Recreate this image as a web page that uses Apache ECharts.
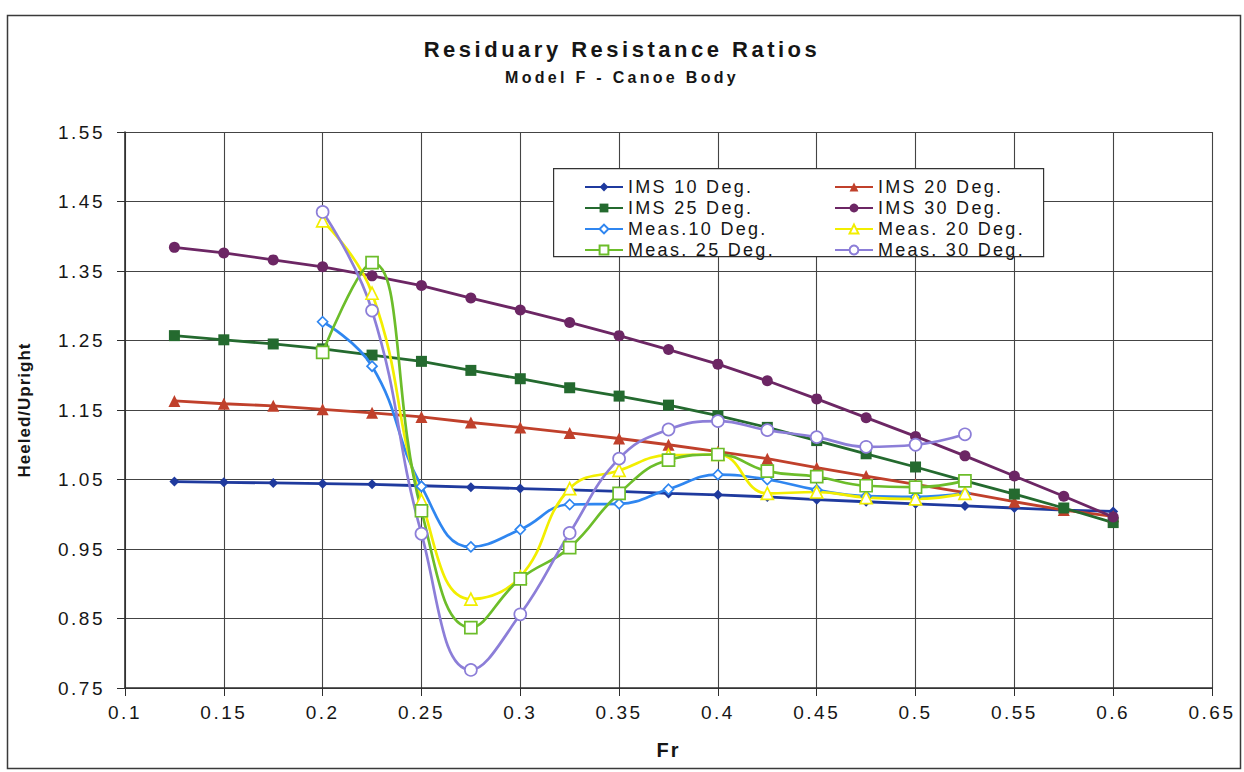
<!DOCTYPE html>
<html>
<head>
<meta charset="utf-8">
<title>Residuary Resistance Ratios</title>
<script src="https://cdn.jsdelivr.net/npm/echarts@6/dist/echarts.min.js"></script>
<style>
  html, body { margin: 0; padding: 0; background: #fff; }
  #chart { width: 1244px; height: 772px; }
  /* wide tracking of the printed lettering, keyed on each text's size */
  #chart text[style*="22px"] { letter-spacing: 3.5px; }
  #chart text[style*="16px"] { letter-spacing: 3.3px; }
  #chart text[style*="19px"] { letter-spacing: 2.5px; }
  #chart text[style*="18px"] { letter-spacing: 2.3px; }
  #chart text[style*="20px"] { letter-spacing: 2px; }
  #chart text[style*="17px"] { letter-spacing: 1px; }
</style>
</head>
<body>
<div id="chart"></div>
<script>
// Froude numbers of the IMS predictions and of the tank measurements
const frIms = [0.125, 0.15, 0.175, 0.2, 0.225, 0.25, 0.275, 0.3, 0.325, 0.35,
               0.375, 0.4, 0.425, 0.45, 0.475, 0.5, 0.525, 0.55, 0.575, 0.6];
const frMeas = [0.2, 0.225, 0.25, 0.275, 0.3, 0.325, 0.35, 0.375, 0.4, 0.425,
                0.45, 0.475, 0.5, 0.525];

// Heeled / upright residuary resistance, IMS predictions
const ims10 = [1.047, 1.046, 1.045, 1.044, 1.043, 1.041, 1.039, 1.037, 1.035, 1.033,
               1.030, 1.028, 1.025, 1.021, 1.018, 1.015, 1.012, 1.009, 1.006, 1.004];
const ims20 = [1.163, 1.159, 1.156, 1.151, 1.146, 1.140, 1.132, 1.125, 1.117, 1.109,
               1.100, 1.090, 1.080, 1.067, 1.055, 1.043, 1.031, 1.018, 1.006, 0.997];
const ims25 = [1.257, 1.251, 1.245, 1.238, 1.229, 1.220, 1.207, 1.195, 1.182, 1.170,
               1.157, 1.142, 1.125, 1.106, 1.087, 1.068, 1.048, 1.029, 1.009, 0.988];
const ims30 = [1.384, 1.376, 1.366, 1.356, 1.343, 1.329, 1.311, 1.294, 1.276, 1.257,
               1.237, 1.216, 1.192, 1.166, 1.139, 1.112, 1.084, 1.055, 1.026, 0.996];

// Heeled / upright residuary resistance, measured
const meas10 = [1.277, 1.213, 1.040, 0.953, 0.978, 1.014, 1.015, 1.036, 1.057, 1.050,
                1.035, 1.026, 1.025, 1.030];
const meas20 = [1.422, 1.318, 1.020, 0.878, 0.910, 1.037, 1.063, 1.085, 1.086, 1.030,
                1.032, 1.024, 1.022, 1.030];
const meas25 = [1.233, 1.362, 1.005, 0.837, 0.907, 0.952, 1.030, 1.078, 1.086, 1.062,
                1.054, 1.041, 1.039, 1.048];
const meas30 = [1.435, 1.293, 0.972, 0.776, 0.856, 0.973, 1.080, 1.122, 1.134, 1.121,
                1.111, 1.097, 1.100, 1.115];

// Axis ranges and tick steps
const xMin = 0.1, xMax = 0.65, xStep = 0.05;
const yMin = 0.75, yMax = 1.55, yStep = 0.1;

const FONT = "'Liberation Sans', Arial, sans-serif";
const INK = '#161616';

function pairs(xs, ys) {
  return xs.map((x, i) => [x, ys[i]]);
}

function imsSeries(name, ys, color, symbol, size) {
  return {
    name, type: 'line', data: pairs(frIms, ys),
    symbol, symbolSize: size,
    lineStyle: { color, width: 2.8 },
    itemStyle: { color, borderColor: color, borderWidth: 0 },
    emphasis: { disabled: true },
    z: 3
  };
}

function measSeries(name, ys, color, symbol, size) {
  return {
    name, type: 'line', data: pairs(frMeas, ys),
    smooth: 0.45,
    symbol, symbolSize: size,
    lineStyle: { color, width: 2.7 },
    itemStyle: { color: '#ffffff', borderColor: color, borderWidth: 1.7 },
    emphasis: { disabled: true },
    z: 4
  };
}

const series = [
  imsSeries('IMS 10 Deg.', ims10, '#1f3a9e', 'diamond', 10),
  imsSeries('IMS 20 Deg.', ims20, '#c0402b', 'triangle', 12),
  imsSeries('IMS 25 Deg.', ims25, '#246a2f', 'rect', 11),
  imsSeries('IMS 30 Deg.', ims30, '#6c2664', 'circle', 11),
  measSeries('Meas.10 Deg.', meas10, '#2f86f0', 'diamond', 10),
  measSeries('Meas. 20 Deg.', meas20, '#f2ee00', 'triangle', 12),
  measSeries('Meas. 25 Deg.', meas25, '#6cbd2a', 'rect', 12),
  measSeries('Meas. 30 Deg.', meas30, '#8c7ed8', 'circle', 12)
];

const legendText = { fontFamily: FONT, fontSize: 18, color: INK };
const legendCommon = {
  orient: 'vertical', top: 173, itemWidth: 38, itemHeight: 11, itemGap: 3,
  textStyle: legendText, selectedMode: false, z: 6
};

const chart = echarts.init(document.getElementById('chart'), null, { renderer: 'svg' });

chart.setOption({
  backgroundColor: '#ffffff',
  animation: false,
  title: {
    text: 'Residuary Resistance Ratios',
    subtext: 'Model F - Canoe Body',
    left: 'center', top: 33, itemGap: 9,
    textStyle: { fontFamily: FONT, fontSize: 22, fontWeight: 'bold', color: INK },
    subtextStyle: { fontFamily: FONT, fontSize: 16, fontWeight: 'bold', color: INK }
  },
  legend: [
    Object.assign({ left: 579, data: ['IMS 10 Deg.', 'IMS 25 Deg.', 'Meas.10 Deg.', 'Meas. 25 Deg.'] }, legendCommon),
    Object.assign({ left: 829, data: ['IMS 20 Deg.', 'IMS 30 Deg.', 'Meas. 20 Deg.', 'Meas. 30 Deg.'] }, legendCommon)
  ],
  grid: { left: 125, right: 32, top: 132, bottom: 84, containLabel: false },
  xAxis: {
    type: 'value', min: xMin, max: xMax, interval: xStep,
    name: 'Fr', nameLocation: 'middle', nameGap: 52,
    nameTextStyle: { fontFamily: FONT, fontSize: 20, fontWeight: 'bold', color: INK },
    axisLine: { show: true, lineStyle: { color: '#2e2e2e', width: 1.6 } },
    axisTick: { show: true, inside: false, length: 8, lineStyle: { color: '#2e2e2e' } },
    axisLabel: {
      fontFamily: FONT, fontSize: 19, color: INK, margin: 15,
      formatter: v => String(+v.toFixed(2))
    },
    splitLine: { show: true, lineStyle: { color: '#444', width: 1.1 } }
  },
  yAxis: {
    type: 'value', min: yMin, max: yMax, interval: yStep,
    name: 'Heeled/Upright', nameLocation: 'middle', nameGap: 92, nameRotate: 90,
    nameTextStyle: { fontFamily: FONT, fontSize: 17, fontWeight: 'bold', color: INK },
    axisLine: { show: true, lineStyle: { color: '#2e2e2e', width: 1.6 } },
    axisTick: { show: true, inside: false, length: 8, lineStyle: { color: '#2e2e2e' } },
    axisLabel: {
      fontFamily: FONT, fontSize: 19, color: INK, margin: 20,
      formatter: v => (+v).toFixed(2)
    },
    splitLine: { show: true, lineStyle: { color: '#444', width: 1.1 } }
  },
  graphic: [
    // frame around the whole chart
    {
      type: 'rect', left: 5, top: 13, z: 0, silent: true,
      shape: { width: 1233, height: 753 },
      style: { fill: null, stroke: '#3a3a3a', lineWidth: 1.5 }
    },
    // legend box
    {
      type: 'rect', left: 553, top: 168, z: 5, silent: true,
      shape: { width: 490, height: 88 },
      style: { fill: '#ffffff', stroke: '#333', lineWidth: 1.2 }
    }
  ],
  series
});
</script>
</body>
</html>
